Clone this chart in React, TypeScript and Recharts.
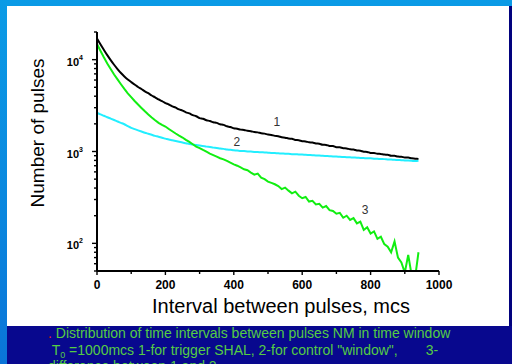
import React from "react";
import { LineChart, Line, XAxis, YAxis, ReferenceDot, Label } from "recharts";

const FONT = "Arial, 'Liberation Sans', Helvetica, sans-serif";

// interval between pulses, mcs
const intervals = [
  0, 10, 20, 30, 40, 50, 60, 70, 80, 90,
  100, 110, 120, 130, 140, 150, 160, 170, 180, 190,
  200, 210, 220, 230, 240, 250, 260, 270, 280, 290,
  300, 310, 320, 330, 340, 350, 360, 370, 380, 390,
  400, 410, 420, 430, 440, 450, 460, 470, 480, 490,
  500, 510, 520, 530, 540, 550, 560, 570, 580, 590,
  600, 610, 620, 630, 640, 650, 660, 670, 680, 690,
  700, 710, 720, 730, 740, 750, 760, 770, 780, 790,
  800, 810, 820, 830, 840, 850, 860, 870, 880, 890,
  900, 910, 920, 930, 940,
];

// 1 - trigger SHAL
const triggerCounts = [
  17000, 14700, 12800, 11200, 9900, 8800, 7900, 7150, 6550, 6080,
  5700, 5370, 5040, 4790, 4520, 4310, 4070, 3890, 3690, 3540,
  3370, 3250, 3100, 3000, 2870, 2790, 2670, 2600, 2490, 2420,
  2310, 2270, 2190, 2150, 2080, 2050, 1980, 1950, 1880, 1850,
  1790, 1770, 1730, 1715, 1680, 1665, 1630, 1615, 1580, 1565,
  1530, 1515, 1480, 1465, 1430, 1415, 1385, 1375, 1335, 1325,
  1295, 1285, 1260, 1250, 1225, 1215, 1185, 1180, 1150, 1145,
  1115, 1110, 1085, 1080, 1055, 1050, 1025, 1020, 995, 990,
  965, 962, 945, 942, 925, 922, 900, 898, 880, 878,
  860, 858, 842, 836, 830,
];

// 2 - control "window"
const windowCounts = [
  2640, 2540, 2450, 2360, 2280, 2200, 2120, 2050, 1980, 1890,
  1810, 1750, 1700, 1650, 1600, 1560, 1520, 1480, 1450, 1410,
  1380, 1350, 1325, 1300, 1275, 1250, 1232, 1210, 1195, 1175,
  1160, 1148, 1130, 1118, 1102, 1092, 1075, 1068, 1050, 1042,
  1030, 1026, 1015, 1012, 1003, 998, 990, 988, 980, 978,
  972, 966, 962, 955, 952, 945, 943, 936, 934, 928,
  926, 920, 916, 912, 906, 904, 898, 894, 890, 884,
  882, 876, 872, 868, 864, 860, 855, 852, 848, 844,
  842, 836, 833, 828, 826, 820, 816, 812, 808, 804,
  800, 796, 792, 788, 792,
];

// 3 - difference between 1 and 2
const differenceCounts = [
  14800, 12500, 10600, 9100, 7900, 6900, 6100, 5400, 4800, 4300,
  3900, 3550, 3250, 2980, 2740, 2530, 2350, 2190, 2050, 1950,
  1870, 1760, 1660, 1570, 1490, 1420, 1340, 1270, 1200, 1130,
  1090, 1040, 995, 950, 915, 880, 845, 820, 790, 755,
  725, 700, 670, 640, 625, 590, 560, 575, 520, 500,
  470, 455, 440, 420, 390, 405, 375, 350, 365, 330,
  310, 320, 285, 290, 265, 270, 245, 255, 230, 225,
  210, 215, 190, 200, 180, 188, 165, 172, 140, 150,
  128, 135, 112, 118, 98, 92, 80, 105, 70, 62,
  48, 75, 45, 42, 80,
];

const xTicks = [0, 100, 200, 300, 400, 500, 600, 700, 800, 900, 1000];
const xLabelled = [0, 200, 400, 600, 800, 1000];

const yTicks = [
  50, 60, 70, 80, 90, 100, 200, 300, 400, 500, 600, 700, 800, 900,
  1000, 2000, 3000, 4000, 5000, 6000, 7000, 8000, 9000, 10000, 20000,
];
const yDecades = [100, 1000, 10000];
const yDecadePowers = ["2", "3", "4"];

const curveNames = ["1", "2", "3"];
const curveNameX = [526, 409, 784];
const curveNameY = [2120, 1285, 234];

const rows = intervals.map((t, i) => ({
  t,
  s1: triggerCounts[i],
  s2: windowCounts[i],
  s3: differenceCounts[i],
}));

function YTick({ x, y, payload }: any) {
  const k = yDecades.indexOf(payload.value);
  const major = k >= 0;
  return (
    <g>
      <line x1={x} x2={x - (major ? 5 : 3)} y1={y} y2={y} stroke="#000" strokeWidth={1.4} />
      {major && (
        <text x={x - 14} y={y + 6} textAnchor="end" fontFamily={FONT} fontWeight="bold" fontSize={11} fill="#000">
          10
          <tspan dy={-6} fontSize={7}>
            {yDecadePowers[k]}
          </tspan>
        </text>
      )}
    </g>
  );
}

function XTick({ x, y, payload }: any) {
  const major = xLabelled.includes(payload.value);
  return (
    <g>
      <line x1={x} x2={x} y1={y} y2={y + (major ? 4 : 3)} stroke="#000" strokeWidth={1.4} />
      {major && (
        <text x={x} y={y + 18} textAnchor="middle" fontFamily={FONT} fontWeight="bold" fontSize={12} fill="#000">
          {payload.value}
        </text>
      )}
    </g>
  );
}

export default function App() {
  return (
    <div
      style={{
        position: "absolute",
        left: 0,
        top: 0,
        width: 512,
        height: 364,
        overflow: "hidden",
        background: "linear-gradient(180deg, #0b9be6 0%, #0a86de 60%, #0a74d8 100%)",
      }}
    >
      <div style={{ position: "absolute", left: 7, top: 6, width: 502, height: 320, background: "#fff" }} />
      <div style={{ position: "absolute", left: 509, top: 6, width: 3, height: 358, background: "#02027e" }} />
      <div style={{ position: "absolute", left: 7, top: 326, width: 505, height: 38, background: "#08088e" }} />

      <div style={{ position: "absolute", left: 0, top: 0 }}>
        <LineChart width={512} height={364} data={rows} margin={{ top: 32, right: 73, bottom: 63, left: 37 }}>
          <XAxis
            type="number"
            dataKey="t"
            domain={[0, 1000]}
            ticks={xTicks}
            interval={0}
            height={30}
            tickSize={0}
            tickMargin={0}
            tick={<XTick />}
            tickLine={false}
            axisLine={{ stroke: "#000", strokeWidth: 2 }}
          >
            <Label
              value="Interval between pulses, mcs"
              content={({ viewBox }: any) => (
                <text
                  x={(viewBox?.x ?? 97) + (viewBox?.width ?? 342) / 2 + 13}
                  y={313}
                  textAnchor="middle"
                  fontFamily={FONT}
                  fontSize={20}
                  fill="#000"
                >
                  Interval between pulses, mcs
                </text>
              )}
            />
          </XAxis>
          <YAxis
            type="number"
            scale="log"
            domain={[50, 20000]}
            allowDataOverflow
            ticks={yTicks}
            interval={0}
            width={60}
            tickSize={0}
            tickMargin={0}
            tick={<YTick />}
            tickLine={false}
            axisLine={{ stroke: "#000", strokeWidth: 2 }}
          >
            <Label
              value="Number of pulses"
              content={() => (
                <text
                  x={37.5}
                  y={133}
                  dy="0.36em"
                  transform="rotate(-90 37.5 133)"
                  textAnchor="middle"
                  fontFamily={FONT}
                  fontSize={19}
                  fill="#000"
                >
                  Number of pulses
                </text>
              )}
            />
          </YAxis>
          <Line type="monotone" dataKey="s1" stroke="#000000" strokeWidth={2} dot={false} isAnimationActive={false} />
          <Line type="monotone" dataKey="s2" stroke="#22eeff" strokeWidth={2} dot={false} isAnimationActive={false} />
          <Line type="linear" dataKey="s3" stroke="#11ee11" strokeWidth={2} dot={false} isAnimationActive={false} />
          {curveNames.map((n, i) => (
            <ReferenceDot key={n} x={curveNameX[i]} y={curveNameY[i]} r={0} fill="none" stroke="none">
              <Label
                content={({ viewBox }: any) => (
                  <text
                    x={viewBox.x + viewBox.width / 2}
                    y={viewBox.y + viewBox.height / 2}
                    dy="0.35em"
                    textAnchor="middle"
                    fontFamily={FONT}
                    fontSize={12}
                    fill="#333333"
                  >
                    {n}
                  </text>
                )}
              />
            </ReferenceDot>
          ))}
        </LineChart>
      </div>

      <div
        style={{
          position: "absolute",
          left: 48,
          top: 325,
          width: 460,
          fontFamily: FONT,
          fontSize: 14,
          lineHeight: "16.5px",
          color: "#55cc44",
          whiteSpace: "pre",
        }}
      >
        <div>
          <span style={{ color: "#ee2222" }}>.</span> Distribution of time intervals between pulses NM in time window
        </div>
        <div>
          {" T"}
          <sub style={{ fontSize: 9, lineHeight: 0, verticalAlign: "-3px" }}>0</sub>
          {' =1000mcs 1-for trigger SHAL, 2-for control "window",'}
          <span style={{ display: "inline-block", width: 28 }} />
          3-
        </div>
        <div>difference between 1 and 2</div>
      </div>
    </div>
  );
}
